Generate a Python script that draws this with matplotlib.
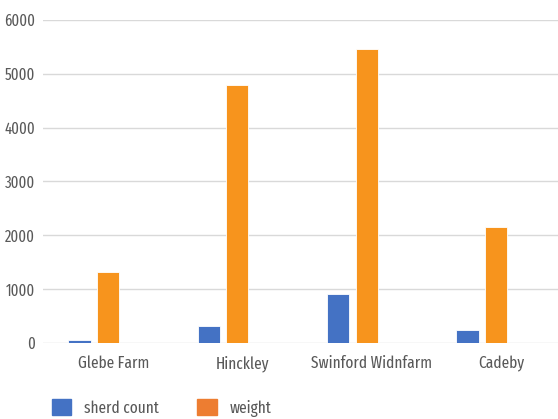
import matplotlib
matplotlib.use("Agg")
import matplotlib.pyplot as plt
import numpy as np
from matplotlib.patches import Patch

sites = ["Glebe Farm", "Hinckley", "Swinford Widnfarm", "Cadeby"]
sherd_count = [60, 310, 910, 240]
weight = [1325, 4800, 5470, 2155]

plt.rcParams["font.family"] = ["Fira Sans Extra Condensed", "DejaVu Sans"]
text_col = "#595959"

fig = plt.figure(figsize=(5.58, 4.19), dpi=100)
ax = fig.add_axes([43.4 / 558, 76 / 419, 517.2 / 558, 323 / 419])

x = np.arange(len(sites))
step = 0.22
w = 0.172
ax.bar(x - step, sherd_count, w, color="#4472C4", edgecolor="white", linewidth=0.6, zorder=3)
ax.bar(x, weight, w, color="#F7941D", edgecolor="white", linewidth=0.6, zorder=3)

ax.set_xlim(-0.5, 3.5)
ax.set_ylim(0, 6000)
ax.set_yticks(range(0, 6001, 1000))
ax.yaxis.grid(True, color="#D9D9D9", linewidth=1.0, zorder=0)
ax.set_axisbelow(True)
for s in ax.spines.values():
    s.set_visible(False)
ax.tick_params(axis="both", length=0, colors=text_col)
ax.tick_params(axis="y", labelsize=11.5, pad=6)
ax.set_xticks(x + 0.04)
ax.set_xticklabels(sites, fontsize=12)
ax.tick_params(axis="x", pad=9)

handles = [Patch(color="#4472C4"), Patch(color="#ED7D31")]
leg = fig.legend(handles, ["sherd count", "weight"], loc="lower left",
                 bbox_to_anchor=(45 / 558, -0.01), ncol=2, frameon=False,
                 fontsize=12, handlelength=1.15, handleheight=1.1,
                 handletextpad=0.8, columnspacing=2.3, borderaxespad=0.0)
for t in leg.get_texts():
    t.set_color(text_col)

fig.savefig("out.png", dpi=100)
